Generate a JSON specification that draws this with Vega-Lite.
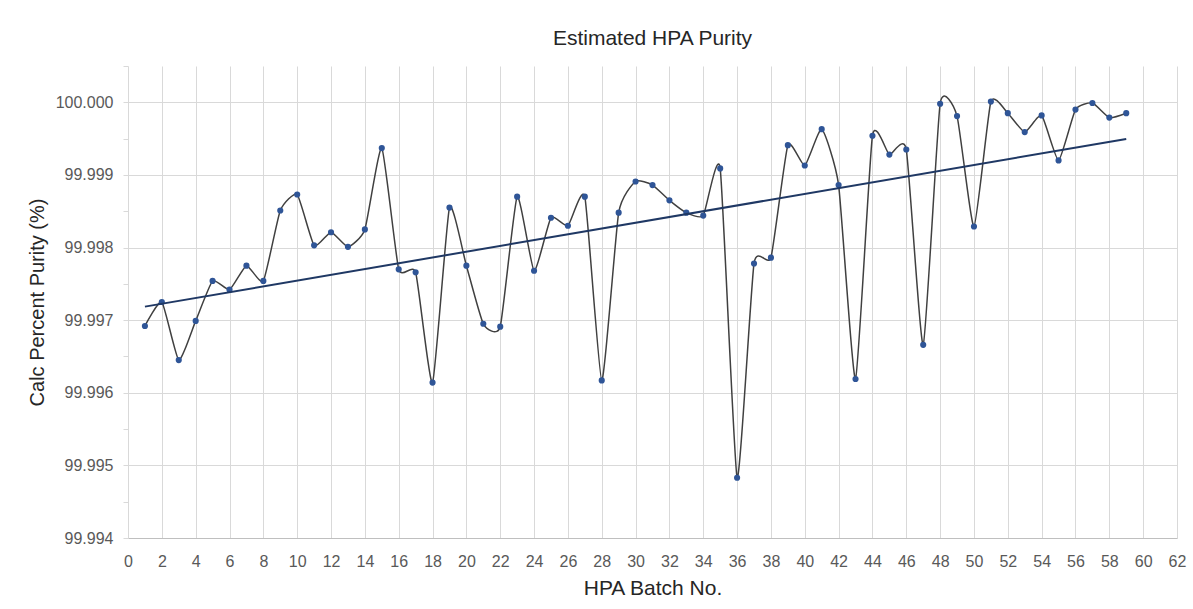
{
  "$schema": "https://vega.github.io/schema/vega-lite/v6.json",
  "width": 1049,
  "height": 472,
  "autosize": {"type": "none"},
  "padding": {"left": 128, "top": 66, "right": 16, "bottom": 71},
  "background": "white",
  "config": {
    "font": "Liberation Sans, Arial, sans-serif",
    "view": {"stroke": null}
  },
  "title": {
    "text": "Estimated HPA Purity",
    "fontSize": 21,
    "fontWeight": "normal",
    "color": "#262626",
    "anchor": "middle",
    "offset": 17
  },
  "data": {
    "values": [
      {"batch": 1, "purity": 99.99692},
      {"batch": 2, "purity": 99.99725},
      {"batch": 3, "purity": 99.99645},
      {"batch": 4, "purity": 99.99699},
      {"batch": 5, "purity": 99.99754},
      {"batch": 6, "purity": 99.99742},
      {"batch": 7, "purity": 99.99775},
      {"batch": 8, "purity": 99.99754},
      {"batch": 9, "purity": 99.99851},
      {"batch": 10, "purity": 99.99873},
      {"batch": 11, "purity": 99.99803},
      {"batch": 12, "purity": 99.99821},
      {"batch": 13, "purity": 99.99801},
      {"batch": 14, "purity": 99.99825},
      {"batch": 15, "purity": 99.99937},
      {"batch": 16, "purity": 99.9977},
      {"batch": 17, "purity": 99.99766},
      {"batch": 18, "purity": 99.99614},
      {"batch": 19, "purity": 99.99855},
      {"batch": 20, "purity": 99.99775},
      {"batch": 21, "purity": 99.99695},
      {"batch": 22, "purity": 99.99691},
      {"batch": 23, "purity": 99.9987},
      {"batch": 24, "purity": 99.99768},
      {"batch": 25, "purity": 99.99841},
      {"batch": 26, "purity": 99.9983},
      {"batch": 27, "purity": 99.9987},
      {"batch": 28, "purity": 99.99617},
      {"batch": 29, "purity": 99.99848},
      {"batch": 30, "purity": 99.99891},
      {"batch": 31, "purity": 99.99886},
      {"batch": 32, "purity": 99.99865},
      {"batch": 33, "purity": 99.99848},
      {"batch": 34, "purity": 99.99844},
      {"batch": 35, "purity": 99.99909},
      {"batch": 36, "purity": 99.99483},
      {"batch": 37, "purity": 99.99778},
      {"batch": 38, "purity": 99.99786},
      {"batch": 39, "purity": 99.99941},
      {"batch": 40, "purity": 99.99913},
      {"batch": 41, "purity": 99.99963},
      {"batch": 42, "purity": 99.99886},
      {"batch": 43, "purity": 99.99619},
      {"batch": 44, "purity": 99.99954},
      {"batch": 45, "purity": 99.99928},
      {"batch": 46, "purity": 99.99935},
      {"batch": 47, "purity": 99.99666},
      {"batch": 48, "purity": 99.99998},
      {"batch": 49, "purity": 99.99981},
      {"batch": 50, "purity": 99.99829},
      {"batch": 51, "purity": 100.00001},
      {"batch": 52, "purity": 99.99985},
      {"batch": 53, "purity": 99.99959},
      {"batch": 54, "purity": 99.99982},
      {"batch": 55, "purity": 99.9992},
      {"batch": 56, "purity": 99.9999},
      {"batch": 57, "purity": 99.99999},
      {"batch": 58, "purity": 99.99979},
      {"batch": 59, "purity": 99.99985}
    ]
  },
  "encoding": {
    "x": {
      "field": "batch",
      "type": "quantitative",
      "scale": {"domain": [0, 62], "nice": false, "zero": false},
      "axis": {
        "title": "HPA Batch No.",
        "values": [0,2,4,6,8,10,12,14,16,18,20,22,24,26,28,30,32,34,36,38,40,42,44,46,48,50,52,54,56,58,60,62],
        "grid": true,
        "gridColor": "#d9d9d9",
        "gridWidth": 1,
        "domainColor": "#bfbfbf",
        "domainWidth": 1,
        "ticks": false,
        "labelPadding": 15,
        "labelFontSize": 16,
        "labelColor": "#595959",
        "labelFlush": false,
        "titleFontSize": 21,
        "titleFontWeight": "normal",
        "titleColor": "#262626",
        "titlePadding": 8
      }
    },
    "y": {
      "field": "purity",
      "type": "quantitative",
      "scale": {"domain": [99.994, 100.0005], "nice": false, "zero": false},
      "axis": {
        "title": "Calc Percent Purity (%)",
        "values": [99.994, 99.9945, 99.995, 99.9955, 99.996, 99.9965, 99.997, 99.9975, 99.998, 99.9985, 99.999, 99.9995, 100.0, 100.0005],
        "labelExpr": "abs(datum.value*1000 - round(datum.value*1000)) < 0.1 ? format(datum.value, '.3f') : ''",
        "grid": true,
        "gridColor": "#d9d9d9",
        "gridOpacity": {"condition": {"test": "abs(datum.value*1000 - round(datum.value*1000)) < 0.1 && datum.value > 99.9941", "value": 1}, "value": 0},
        "domain": false,
        "ticks": true,
        "tickSize": 5,
        "tickColor": "#d9d9d9",
        "labelPadding": 10,
        "labelFontSize": 16,
        "labelColor": "#595959",
        "titleFontSize": 20,
        "titleFontWeight": "normal",
        "titleColor": "#262626",
        "titlePadding": 8
      }
    }
  },
  "layer": [
    {
      "mark": {"type": "line", "interpolate": "cardinal", "tension": 0.5, "color": "#404040", "strokeWidth": 1.5}
    },
    {
      "mark": {"type": "circle", "color": "#2F5597", "size": 38, "opacity": 1}
    },
    {
      "transform": [
        {"regression": "purity", "on": "batch", "method": "linear", "extent": [1, 59]}
      ],
      "mark": {"type": "line", "color": "#1F3864", "strokeWidth": 2}
    }
  ]
}
